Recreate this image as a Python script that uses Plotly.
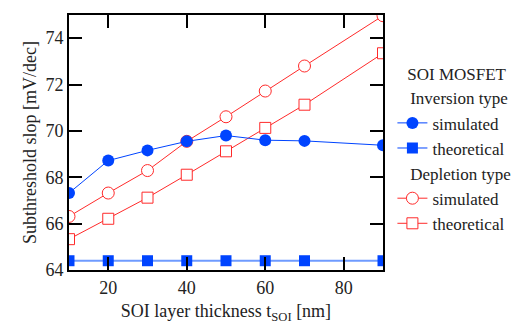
import plotly.graph_objects as go

x_vals = [10, 20, 30, 40, 50, 60, 70, 90]
inv_sim = [67.32, 68.72, 69.16, 69.55, 69.8, 69.6, 69.57, 69.38]
inv_theo = [64.4, 64.4, 64.4, 64.4, 64.4, 64.4, 64.4, 64.4]
dep_sim = [66.31, 67.32, 68.29, 69.55, 70.61, 71.72, 72.8, 74.97]
dep_theo = [65.33, 66.21, 67.12, 68.11, 69.12, 70.13, 71.13, 73.35]

BLUE = "#0044ff"
LBLUE = "#6f9bff"
RED = "#ff2a2a"
FONT = "Liberation Serif, Times New Roman, DejaVu Serif, serif"
INDENT = "\u00a0\u00a0\u00a0"

fig = go.Figure()
fig.add_trace(go.Scatter(
    x=x_vals, y=inv_theo, mode="lines+markers", name="theoretical",
    line=dict(color=LBLUE, width=2),
    marker=dict(symbol="square", size=11, color=BLUE),
    showlegend=False))
fig.add_trace(go.Scatter(
    x=x_vals, y=dep_theo, mode="lines+markers", name="theoretical",
    line=dict(color=RED, width=1),
    marker=dict(symbol="square", size=11, color="white", line=dict(color=RED, width=1)),
    showlegend=False))
fig.add_trace(go.Scatter(
    x=x_vals, y=dep_sim, mode="lines+markers", name="simulated",
    line=dict(color=RED, width=1),
    marker=dict(symbol="circle", size=12, color="white", line=dict(color=RED, width=1)),
    showlegend=False))
fig.add_trace(go.Scatter(
    x=x_vals, y=inv_sim, mode="lines+markers", name="simulated",
    line=dict(color=BLUE, width=1),
    marker=dict(symbol="circle", size=12, color=BLUE),
    showlegend=False))

# legend entries
fig.add_trace(go.Scatter(
    x=[None], y=[None], mode="lines+markers", name="simulated",
    line=dict(color=BLUE, width=1), marker=dict(symbol="circle", size=12, color=BLUE),
    legendgroup="inv", legendgrouptitle=dict(text=INDENT + "Inversion type"), legendrank=1))
fig.add_trace(go.Scatter(
    x=[None], y=[None], mode="lines+markers", name="theoretical",
    line=dict(color=BLUE, width=1), marker=dict(symbol="square", size=11, color=BLUE),
    legendgroup="inv", legendrank=2))
fig.add_trace(go.Scatter(
    x=[None], y=[None], mode="lines+markers", name="simulated",
    line=dict(color=RED, width=1),
    marker=dict(symbol="circle", size=12, color="white", line=dict(color=RED, width=1)),
    legendgroup="dep", legendgrouptitle=dict(text=INDENT + "Depletion type"), legendrank=3))
fig.add_trace(go.Scatter(
    x=[None], y=[None], mode="lines+markers", name="theoretical",
    line=dict(color=RED, width=1),
    marker=dict(symbol="square", size=11, color="white", line=dict(color=RED, width=1)),
    legendgroup="dep", legendrank=4))

axis_common = dict(
    showline=True, linecolor="black", linewidth=2, mirror="ticks",
    ticks="inside", ticklen=13, tickwidth=2, tickcolor="black",
    showgrid=False, zeroline=False,
    tickfont=dict(family=FONT, size=18, color="#222"),
)

# page body has an 8px margin, so the figure is sized/offset accordingly
fig.update_layout(
    width=518, height=316,
    margin=dict(l=61, r=143, t=7, b=54, autoexpand=False),
    paper_bgcolor="white", plot_bgcolor="white",
    font=dict(family=FONT, size=18, color="#222"),
    xaxis=dict(range=[10, 90], tickvals=[20, 40, 60, 80],
               title=dict(text="SOI layer thickness t<sub>SOI</sub> [nm]",
                          font=dict(family=FONT, size=18), standoff=12),
               automargin=False, **axis_common),
    yaxis=dict(range=[64, 75], tickvals=[64, 66, 68, 70, 72, 74],
               title=dict(text="Subthreshold slop [mV/dec]",
                          font=dict(family=FONT, size=18), standoff=4),
               automargin=False, **axis_common),
    showlegend=True,
    legend=dict(
        x=1.03, xanchor="left", y=0.472, yanchor="middle",
        title=dict(text="SOI MOSFET", side="top center", font=dict(family=FONT, size=17)),
        font=dict(family=FONT, size=17),
        grouptitlefont=dict(family=FONT, size=17),
        tracegroupgap=0, itemwidth=30, bgcolor="rgba(0,0,0,0)",
        traceorder="grouped",
    ),
)

fig.write_html("out.html")
